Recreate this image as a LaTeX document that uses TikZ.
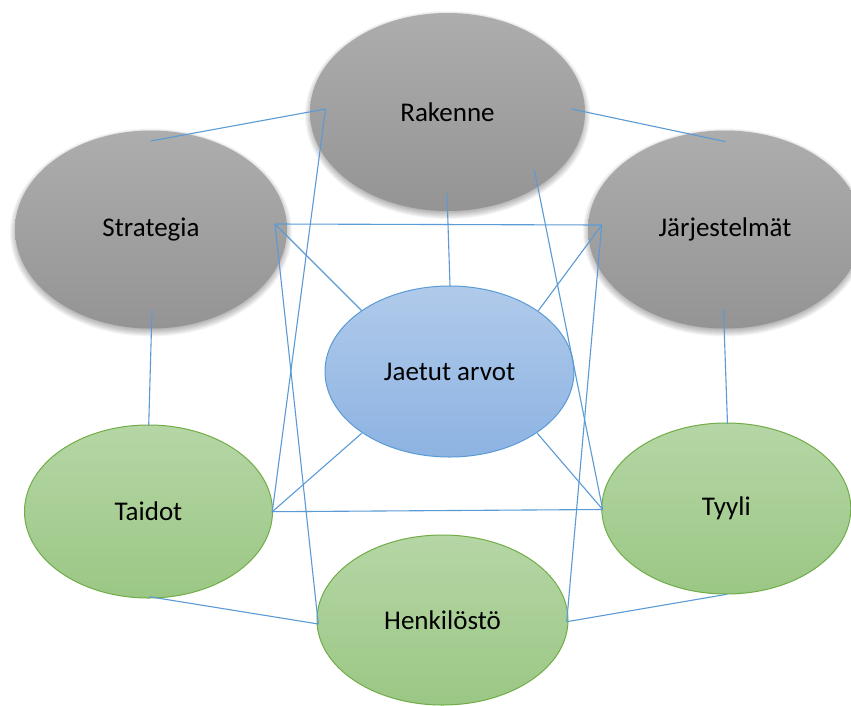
\documentclass[tikz,border=0pt]{standalone}
\usepackage{fontspec}
\setmainfont{Carlito}
\usetikzlibrary{shapes.geometric}

\definecolor{linkblue}{HTML}{5B9BD5}
\definecolor{greytop}{HTML}{ADADAD}
\definecolor{greybot}{HTML}{949494}
\definecolor{bluetop}{HTML}{B0CAEA}
\definecolor{bluebot}{HTML}{8DB3E2}
\definecolor{blueedge}{HTML}{5B9BD5}
\definecolor{greentop}{HTML}{B5D6A5}
\definecolor{greenbot}{HTML}{9BC785}
\definecolor{greenedge}{HTML}{70AD47}

\tikzset{
  oval/.style={ellipse, inner sep=0pt, text=black,
    font=\fontsize{27}{30}\selectfont},
  greyoval/.style={oval, top color=greytop, bottom color=greybot, draw=none},
  blueoval/.style={oval, top color=bluetop, bottom color=bluebot,
    draw=blueedge, line width=1pt},
  greenoval/.style={oval, top color=greentop, bottom color=greenbot,
    draw=greenedge, line width=1pt},
  link/.style={draw=linkblue, line width=1.1pt}
}

% soft shadow beneath an oval: centre x, centre y, x radius, y radius
\newcommand\ovalshadow[4]{%
  \foreach \k in {0,...,9}
    \fill[black, opacity=0.04] (#1,#2+3) ellipse [x radius=#3-4+\k, y radius=#4-4+\k];
}

\begin{document}
\begin{tikzpicture}[x=1pt,y=-1pt]
\useasboundingbox (0,0) rectangle (851,705);
\fill[white] (0,0) rectangle (851,705);

% the three grey ovals with their shadows
\ovalshadow{447.5}{112}{137.5}{99}
\ovalshadow{151}{229.5}{136}{99}
\ovalshadow{725}{229.5}{137}{99}
\node[greyoval, minimum width=275pt, minimum height=198pt] (R) at (447.5,112) {Rakenne};
\node[greyoval, minimum width=272pt, minimum height=198pt] (S) at (151,229.5) {Strategia};
\node[greyoval, minimum width=274pt, minimum height=198pt] (J) at (725,229.5) {Järjestelmät};

% shared values in the middle
\node[blueoval, minimum width=249pt, minimum height=171pt] (A) at (449.5,371.5) {Jaetut arvot};

% the three green ovals
\node[greenoval, minimum width=248pt, minimum height=173pt] (T) at (148.5,511.5) {Taidot};
\node[greenoval, minimum width=249pt, minimum height=171pt] (Y) at (726.3,508.5) {Tyyli};
\node[greenoval, minimum width=251pt, minimum height=170pt] (H) at (442.5,620) {Henkilöstö};

% connection points
\coordinate (S-top)   at (150.7,141);
\coordinate (S-right) at (275,224);
\coordinate (S-bot)   at (152,310.5);
\coordinate (R-left)  at (325.5,109);
\coordinate (R-right) at (571.5,109);
\coordinate (R-bot)   at (447,193.5);
\coordinate (R-lr)    at (534.3,169.5);
\coordinate (J-top)   at (725.6,141.6);
\coordinate (J-left)  at (601.7,225);
\coordinate (J-bot)   at (723.5,310);
\coordinate (A-top)   at (450,286);
\coordinate (A-ul)    at (361.7,310.7);
\coordinate (A-ur)    at (538.3,310.7);
\coordinate (A-ll)    at (361.7,433.3);
\coordinate (A-lr)    at (537.3,433.3);
\coordinate (T-top)   at (148.7,425.5);
\coordinate (T-right) at (272.3,511.7);
\coordinate (T-bot)   at (149.3,596.7);
\coordinate (Y-top)   at (727.5,424);
\coordinate (Y-left)  at (602.7,509.5);
\coordinate (Y-bot)   at (726.7,594.3);
\coordinate (H-left)  at (318.3,624);
\coordinate (H-right) at (566.7,621.7);

% connectors
\draw[link] (S-top) -- (R-left);
\draw[link] (R-right) -- (J-top);
\draw[link] (R-bot) -- (A-top);
\draw[link] (S-right) -- (J-left);
\draw[link] (S-right) -- (A-ul);
\draw[link] (J-left) -- (A-ur);
\draw[link] (T-right) -- (Y-left);
\draw[link] (T-right) -- (A-ll);
\draw[link] (Y-left) -- (A-lr);
\draw[link] (S-bot) -- (T-top);
\draw[link] (J-bot) -- (Y-top);
\draw[link] (T-bot) -- (H-left);
\draw[link] (Y-bot) -- (H-right);
\draw[link] (R-left) -- (T-right);
\draw[link] (S-right) -- (H-left);
\draw[link] (R-lr) -- (Y-left);
\draw[link] (J-left) -- (H-right);
\end{tikzpicture}
\end{document}
